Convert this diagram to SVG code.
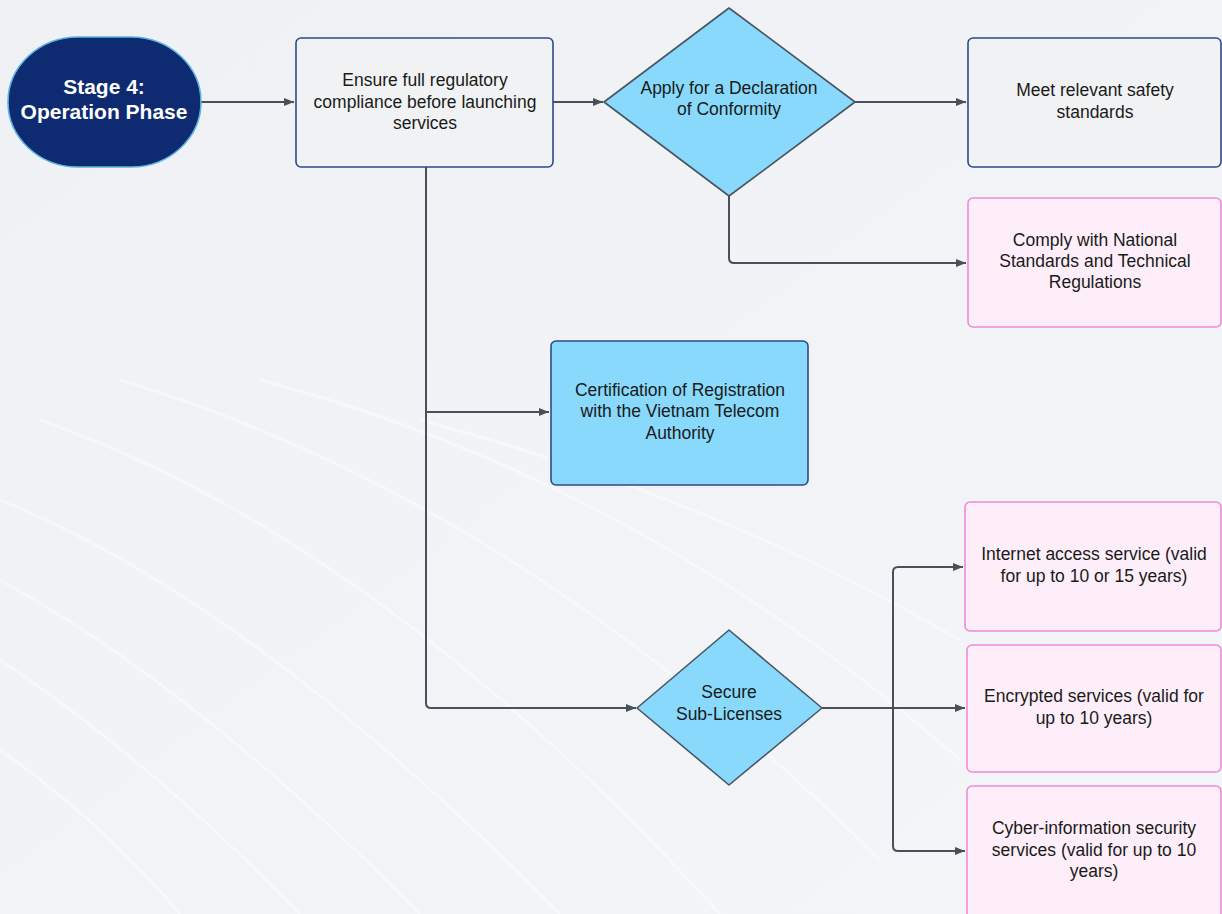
<svg xmlns="http://www.w3.org/2000/svg" width="1222" height="914" viewBox="0 0 1222 914">
<defs>
<linearGradient id="bg" x1="0" y1="0" x2="1" y2="1">
<stop offset="0" stop-color="#eff1f5"/>
<stop offset="1" stop-color="#f3f5f9"/>
</linearGradient>
<marker id="arr" viewBox="0 0 10 10" refX="10" refY="5" markerWidth="10" markerHeight="10" markerUnits="userSpaceOnUse" orient="auto">
<path d="M0,1 L10,5 L0,9 Z" fill="#4a5058"/>
</marker>
<style>
.conn{fill:none;stroke:#4a5058;stroke-width:2;stroke-linejoin:round}
.streak{fill:none;stroke:#ffffff;stroke-width:3;opacity:0.4}
.t{font-family:"Liberation Sans",Arial,sans-serif;font-size:17.5px;fill:#1a1a1a;text-anchor:middle}
.st{font-family:"Liberation Sans",Arial,sans-serif;font-size:21px;font-weight:bold;fill:#ffffff;text-anchor:middle}
.grey{fill:#f1f2f4;stroke:#2d4a8c;stroke-width:1.6}
.pink{fill:#fdeef9;stroke:#f08bd8;stroke-width:1.6}
.blue{fill:#88d9fb;stroke:#2d4a8c;stroke-width:1.6}
.dia{fill:#88d9fb;stroke:#4a5563;stroke-width:1.6;stroke-linejoin:round}
</style>
</defs>
<rect width="1222" height="914" fill="url(#bg)"/>
<g id="background-streaks">
<path class="streak" d="M0,500 Q250,600 560,914"/>
<path class="streak" d="M0,580 Q200,690 420,914"/>
<path class="streak" d="M0,660 Q150,760 300,914"/>
<path class="streak" d="M0,750 Q100,820 180,914"/>
<path class="streak" d="M40,420 Q380,540 720,914"/>
<path class="streak" d="M120,380 Q520,500 880,860"/>
<path class="streak" d="M260,380 Q640,480 960,760"/>
<path class="streak" d="M420,420 Q720,500 960,640"/>
</g>
<g id="connectors">
<path class="conn" d="M201,102 L294,102" marker-end="url(#arr)"/>
<path class="conn" d="M553,102 L603,102" marker-end="url(#arr)"/>
<path class="conn" d="M855,102 L966,102" marker-end="url(#arr)"/>
<path class="conn" d="M729,196 L729,258 Q729,263 734,263 L966,263" marker-end="url(#arr)"/>
<path class="conn" d="M426,167 L426,703 Q426,708 431,708 L636,708" marker-end="url(#arr)"/>
<path class="conn" d="M426,412 L549,412" marker-end="url(#arr)"/>
<path class="conn" d="M822,708 L965,708" marker-end="url(#arr)"/>
<path class="conn" d="M893,708 L893,572 Q893,567 898,567 L963,567" marker-end="url(#arr)"/>
<path class="conn" d="M893,708 L893,846 Q893,851 898,851 L965,851" marker-end="url(#arr)"/>
</g>
<g id="node-stage">
<rect x="8" y="37" width="193" height="130" rx="70" ry="65" fill="#0e2a70" stroke="#5bb4e0" stroke-width="1.6"/>
<text class="st" x="104" y="94">Stage 4:</text>
<text class="st" x="104" y="119">Operation Phase</text>
</g>
<g id="node-compliance">
<rect class="grey" x="296" y="38" width="257" height="129" rx="5"/>
<text class="t" x="425" y="86">Ensure full regulatory</text>
<text class="t" x="425" y="108">compliance before launching</text>
<text class="t" x="425" y="129">services</text>
</g>
<g id="node-declaration">
<polygon class="dia" points="729,8 855,102 729,196 604,102"/>
<text class="t" x="729" y="94">Apply for a Declaration</text>
<text class="t" x="729" y="115">of Conformity</text>
</g>
<g id="node-safety">
<rect class="grey" x="968" y="38" width="253" height="129" rx="5"/>
<text class="t" x="1095" y="96">Meet relevant safety</text>
<text class="t" x="1095" y="118">standards</text>
</g>
<g id="node-national">
<rect class="pink" x="968" y="198" width="253" height="129" rx="5"/>
<text class="t" x="1095" y="246">Comply with National</text>
<text class="t" x="1095" y="267">Standards and Technical</text>
<text class="t" x="1095" y="288">Regulations</text>
</g>
<g id="node-certification">
<rect class="blue" x="551" y="341" width="257" height="144" rx="5"/>
<text class="t" x="680" y="396">Certification of Registration</text>
<text class="t" x="680" y="417">with the Vietnam Telecom</text>
<text class="t" x="680" y="439">Authority</text>
</g>
<g id="node-sublicenses">
<polygon class="dia" points="729,630 822,708 729,785 637,708"/>
<text class="t" x="729" y="698">Secure</text>
<text class="t" x="729" y="720">Sub-Licenses</text>
</g>
<g id="node-internet">
<rect class="pink" x="965" y="502" width="256" height="129" rx="5"/>
<text class="t" x="1094" y="560">Internet access service (valid</text>
<text class="t" x="1094" y="582">for up to 10 or 15 years)</text>
</g>
<g id="node-encrypted">
<rect class="pink" x="967" y="645" width="254" height="127" rx="5"/>
<text class="t" x="1094" y="702">Encrypted services (valid for</text>
<text class="t" x="1094" y="724">up to 10 years)</text>
</g>
<g id="node-cyber">
<rect class="pink" x="967" y="786" width="254" height="132" rx="5"/>
<text class="t" x="1094" y="834">Cyber-information security</text>
<text class="t" x="1094" y="856">services (valid for up to 10</text>
<text class="t" x="1094" y="877">years)</text>
</g>
</svg>
